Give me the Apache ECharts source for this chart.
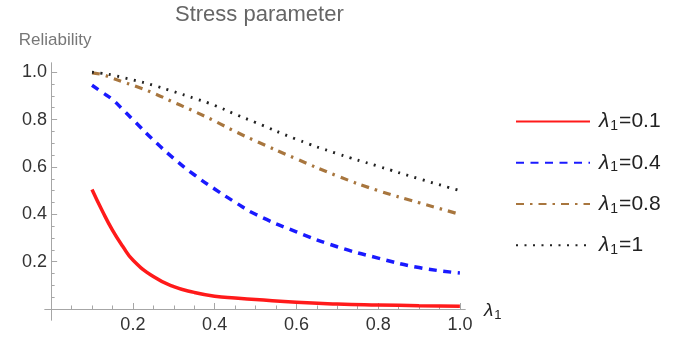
<!DOCTYPE html>
<html>
<head>
	<meta charset="utf-8">
</head>
<body style="margin: 0">
<div id="container" style="width: 685px; height: 337px"></div>
<script type="text/javascript" src="https://cdn.jsdelivr.net/npm/echarts@6/dist/echarts.min.js"></script>
<script type="text/javascript">
    // lambda_1 on the x axis, reliability for each curve
    var lambda1 = [0.1, 0.125, 0.15, 0.175, 0.2, 0.25, 0.3, 0.35, 0.4, 0.45, 0.5, 0.6, 0.7, 0.8, 0.9, 1.0];
    var rel01 = [0.505, 0.415, 0.333, 0.265, 0.207, 0.137, 0.094, 0.07, 0.054, 0.046, 0.04, 0.028, 0.021, 0.017, 0.014, 0.012];
    var rel04 = [0.945, 0.915, 0.885, 0.843, 0.80, 0.714, 0.636, 0.567, 0.507, 0.451, 0.40, 0.326, 0.263, 0.215, 0.175, 0.152];
    var rel08 = [0.997, 0.99, 0.975, 0.96, 0.945, 0.912, 0.873, 0.835, 0.794, 0.75, 0.71, 0.634, 0.562, 0.50, 0.449, 0.40];
    var rel1 = [1.0, 0.995, 0.988, 0.978, 0.968, 0.945, 0.918, 0.89, 0.86, 0.823, 0.788, 0.717, 0.656, 0.603, 0.55, 0.50];
    var seriesNames = ['λ1=0.1', 'λ1=0.4', 'λ1=0.8', 'λ1=1'];

    var xMajor = [0.2, 0.4, 0.6, 0.8, 1.0];
    var xMinor = [0.05, 0.1, 0.15, 0.25, 0.3, 0.35, 0.45, 0.5, 0.55, 0.65, 0.7, 0.75, 0.85, 0.9, 0.95];
    var yMajor = [0.2, 0.4, 0.6, 0.8, 1.0];
    var yMinor = [0.05, 0.1, 0.15, 0.25, 0.3, 0.35, 0.45, 0.5, 0.55, 0.65, 0.7, 0.75, 0.85, 0.9, 0.95];

    var font = 'Liberation Sans';
    var axisGray = '#a6a6a6';

    function pairs(ys) {
        return lambda1.map(function (x, i) { return [x, ys[i]]; });
    }

    function lambdaRich(size) {
        return {
            g: {fontSize: size, fontStyle: 'italic', fontFamily: font, color: '#222'},
            s: {fontSize: Math.round(size * 0.68), fontFamily: font, color: '#222', padding: [size * 0.45, 1, 0, 1]},
            t: {fontSize: size, fontFamily: font, color: '#222'}
        };
    }

    var xBase = {
        type: 'value', min: -0.015, max: 1.0125,
        splitLine: {show: false},
        axisLine: {onZero: true, onZeroAxisIndex: 0, lineStyle: {color: axisGray, width: 1}}
    };
    var yBase = {
        type: 'value', min: -0.0465, max: 1.039,
        splitLine: {show: false},
        axisLine: {onZero: true, onZeroAxisIndex: 0, lineStyle: {color: axisGray, width: 1}}
    };

    var dom = document.getElementById("container");
    var myChart = echarts.init(dom);
    var option = {
        backgroundColor: '#fff',
        animation: false,
        title: {
            text: 'Stress parameter',
            left: 170,
            top: -1,
            textStyle: {fontFamily: font, fontSize: 22, fontWeight: 'normal', color: '#666'}
        },
        grid: {left: 45, width: 420, top: 63, height: 257, outerBoundsMode: 'none'},
        legend: {
            orient: 'vertical',
            left: 510,
            top: 106,
            itemWidth: 74,
            itemHeight: 14,
            itemGap: 19,
            data: seriesNames,
            itemStyle: {opacity: 0},
            formatter: function (name) {
                return '{g|λ}{s|1}{t|' + name.slice(2) + '}';
            },
            textStyle: {fontSize: 21, fontFamily: font, color: '#222', padding: [0, 0, 0, 4], rich: lambdaRich(21)}
        },
        xAxis: [
            echarts.util.merge({
                position: 'bottom',
                name: '{g|λ}{s|1}',
                nameLocation: 'end',
                nameGap: 19,
                nameTextStyle: {rich: lambdaRich(19), verticalAlign: 'middle', padding: [4, 0, 0, 0]},
                axisTick: {inside: true, length: 6, customValues: xMajor, lineStyle: {color: axisGray}},
                axisLabel: {
                    customValues: xMajor, margin: -4, fontSize: 18, fontFamily: font, color: '#333',
                    formatter: function (v) { return v.toFixed(1); }
                }
            }, xBase, true),
            echarts.util.merge({
                position: 'bottom',
                axisTick: {inside: true, length: 3.5, customValues: xMinor, lineStyle: {color: axisGray}},
                axisLabel: {show: false}
            }, xBase, true)
        ],
        yAxis: [
            echarts.util.merge({
                position: 'left',
                name: 'Reliability',
                nameLocation: 'end',
                nameGap: 14,
                nameTextStyle: {fontFamily: font, fontSize: 17, color: '#777', padding: [0, 0, 0, 8]},
                axisTick: {inside: true, length: 6, customValues: yMajor, lineStyle: {color: axisGray}},
                axisLabel: {
                    customValues: yMajor, margin: -2, fontSize: 18, fontFamily: font, color: '#333',
                    formatter: function (v) { return v.toFixed(1); }
                }
            }, yBase, true),
            echarts.util.merge({
                position: 'left',
                axisTick: {inside: true, length: 3.5, customValues: yMinor, lineStyle: {color: axisGray}},
                axisLabel: {show: false}
            }, yBase, true)
        ],
        series: [
            {
                name: seriesNames[0], type: 'line', smooth: true, symbol: 'none', data: pairs(rel01),
                lineStyle: {color: '#ff1a1a', width: 3.5}, itemStyle: {color: '#ff1a1a'}
            },
            {
                name: seriesNames[1], type: 'line', smooth: true, symbol: 'none', data: pairs(rel04),
                lineStyle: {color: '#1a1aff', width: 3.5, type: [8, 6.5]}, itemStyle: {color: '#1a1aff'}
            },
            {
                name: seriesNames[2], type: 'line', smooth: true, symbol: 'none', data: pairs(rel08),
                lineStyle: {color: '#a8763e', width: 3.2, type: [8, 6, 2.5, 6]}, itemStyle: {color: '#a8763e'}
            },
            {
                name: seriesNames[3], type: 'line', smooth: true, symbol: 'none', data: pairs(rel1),
                lineStyle: {color: '#222', width: 2.8, type: [2, 6.5]}, itemStyle: {color: '#222'}
            }
        ]
    };

    myChart.setOption(option, true);
</script>
</body>
</html>
